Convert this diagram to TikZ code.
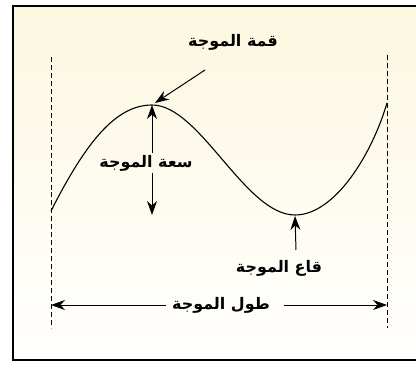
\documentclass[tikz,border=0pt]{standalone}
\usepackage{fontspec}
\TeXXeTstate=1
\newfontfamily\arabicfont[Script=Arabic]{DejaVu Sans}
\usetikzlibrary{arrows.meta, positioning}
\definecolor{paperYellow}{HTML}{FCF7DF}

\begin{document}
\begin{tikzpicture}[x=1bp, y=1bp,
    lbl/.style={font=\arabicfont\bfseries\fontsize{16}{18}\selectfont, inner sep=2pt},
    guide/.style={line width=1pt, dash pattern=on 5pt off 3pt},
    ptr/.style={-{Stealth[length=14pt, width=10pt, inset=4.5pt]}, line width=1pt}]
  \useasboundingbox (0,0) rectangle (416,369);
  % paper and frame
  \shade[top color=paperYellow, bottom color=white] (13,9) rectangle (416,363);
  \draw[line width=1.3pt] (416,363) -- (13,363) -- (13,9) -- (416,9);
  % the two guide lines
  \coordinate (lTop) at (51,312);
  \coordinate (lBot) at (51,41);
  \coordinate (rTop) at (387,314);
  \coordinate (rBot) at (387,41);
  \draw[guide] (lTop) -- (lBot);
  \draw[guide] (rTop) -- (rBot);
  % the wave
  \coordinate (start) at (51,158);
  \coordinate (peak) at (152,264);
  \coordinate (low) at (295,154);
  \coordinate (end) at (387,266);
  \draw[line width=1.1pt] (start) .. controls (85,225) and (115,264) .. (peak)
    .. controls (200,264) and (245,154) .. (low)
    .. controls (335,154) and (372,215) .. (end);
  % labels
  \node[lbl] (crest) at (233,327) {\beginR قمة الموجة\endR};
  \node[lbl] (amp) at (146,206) {\beginR سعة الموجة\endR};
  \node[lbl] (trough) at (279,101) {\beginR قاع الموجة\endR};
  \node[lbl, inner xsep=6pt] (wavelen) at (221,64) {\beginR طول الموجة\endR};
  \coordinate (crestTail) at (205,299);
  \coordinate (ampLow) at (152,154);
  \coordinate (lowTail) at (296,119);
  \coordinate (lArr) at (51,64);
  \coordinate (rArr) at (387,64);
  % pointers
  \draw[ptr] (crestTail) -- ([shift={(3,2)}]peak);
  \draw[ptr] (peak |- amp.north) -- (peak);
  \draw[ptr] (peak |- amp.south) -- (ampLow);
  \draw[ptr] (lowTail) -- ([yshift=-1pt]low);
  \draw[ptr] (wavelen.west) -- (lArr);
  \draw[ptr] ([xshift=8pt]wavelen.east) -- (rArr);
\end{tikzpicture}
\end{document}
